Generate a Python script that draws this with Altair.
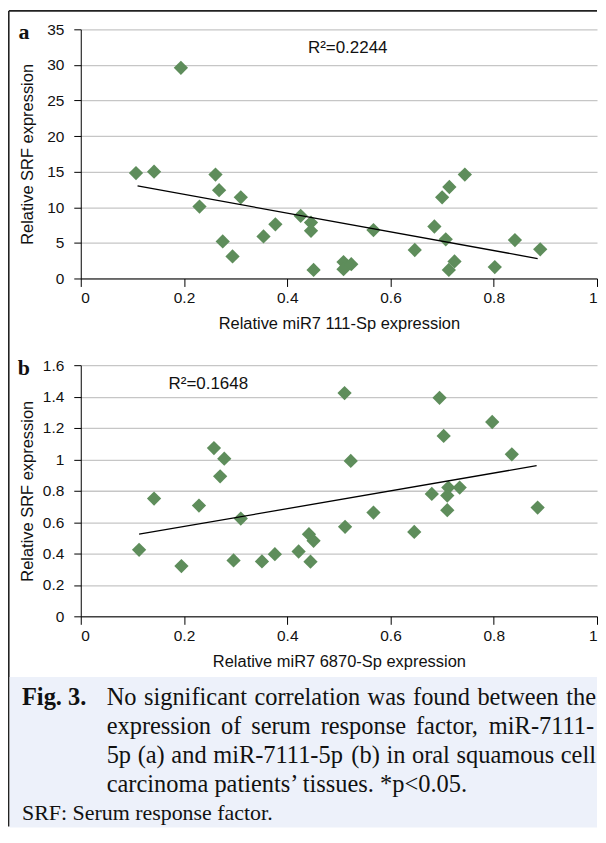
import altair as alt
import pandas as pd

# ---------------- data ----------------
x_ticks = [0, 0.2, 0.4, 0.6, 0.8, 1]

# Panel a : miR7 111-Sp vs SRF
a_x = [0.107, 0.142, 0.194, 0.230, 0.261, 0.268, 0.275, 0.294, 0.310, 0.354,
       0.377, 0.426, 0.446, 0.446, 0.451, 0.509, 0.509, 0.524, 0.567, 0.647,
       0.685, 0.700, 0.707, 0.714, 0.713, 0.724, 0.744, 0.802, 0.841, 0.890]
a_y = [14.8, 15.0, 29.6, 10.1, 14.6, 12.4, 5.2, 3.1, 11.4, 5.9,
       7.6, 8.8, 7.85, 6.7, 1.2, 2.3, 1.3, 2.0, 6.8, 4.0,
       7.3, 11.4, 5.5, 12.85, 1.2, 2.4, 14.6, 1.6, 5.4, 4.1]
a_trend_x = [0.110, 0.885]
a_trend_y = [13.0, 2.8]
a_y_ticks = [0, 5, 10, 15, 20, 25, 30, 35]
a_r2 = "R²=0.2244"

# Panel b : miR7 6870-Sp vs SRF
b_x = [0.113, 0.142, 0.195, 0.229, 0.258, 0.278, 0.270, 0.296, 0.310, 0.351,
       0.376, 0.422, 0.442, 0.451, 0.445, 0.511, 0.512, 0.523, 0.567, 0.646,
       0.680, 0.695, 0.703, 0.712, 0.710, 0.710, 0.734, 0.797, 0.835, 0.885]
b_y = [0.424, 0.750, 0.320, 0.706, 1.072, 1.004, 0.892, 0.356, 0.623, 0.350,
       0.396, 0.413, 0.523, 0.481, 0.348, 1.422, 0.570, 0.990, 0.661, 0.538,
       0.780, 1.392, 1.149, 0.820, 0.769, 0.676, 0.820, 1.238, 1.032, 0.693]
b_trend_x = [0.113, 0.883]
b_trend_y = [0.523, 0.960]
b_y_ticks = [0, 0.2, 0.4, 0.6, 0.8, 1, 1.2, 1.4, 1.6]
b_r2 = "R²=0.1648"

caption_label = "Fig. 3."
caption_lines = [
    "No significant correlation was found between the",
    "expression of serum response factor, miR-7111-",
    "5p (a) and miR-7111-5p (b) in oral squamous cell",
    "carcinoma patients’ tissues. *p<0.05.",
]
caption_justified = [True, True, True, False]
caption_note = "SRF: Serum response factor."

# ---------------- styling ----------------
SANS = "Liberation Sans, Arial, sans-serif"
SERIF = "Liberation Serif, Times New Roman, serif"
GREEN = "#5e8d5b"
W = 518
one = pd.DataFrame({"k": [0]})

# Times / Liberation Serif advance widths (1/1000 em) used to justify lines
TW = {" ": 250, "a": 444, "b": 500, "c": 444, "d": 500, "e": 444, "f": 333,
      "g": 500, "h": 500, "i": 278, "j": 278, "k": 500, "l": 278, "m": 778,
      "n": 500, "o": 500, "p": 500, "q": 500, "r": 333, "s": 389, "t": 278,
      "u": 500, "v": 500, "w": 722, "x": 500, "y": 500, "z": 444, ",": 250,
      ".": 250, "-": 333, "(": 333, ")": 333, "R": 667, "N": 722, "S": 556,
      "F": 556, "’": 333, "*": 500, "<": 564}


def tw(s, fs):
    return sum(TW.get(ch, 500) for ch in s) * fs / 1000.0


def panel(xs, ys, tx, ty, r2, r2x, r2y, ymax, yticks, xtitle, letter, h):
    pts = pd.DataFrame({"x": xs, "y": ys})
    trend = pd.DataFrame({"x": tx, "y": ty})
    lab = pd.DataFrame({"x": [r2x], "y": [r2y], "t": [r2]})
    xs_ = alt.Scale(domain=[0, 1], nice=False, zero=False)
    ys_ = alt.Scale(domain=[0, ymax], nice=False, zero=False)
    xax = alt.Axis(values=x_ticks, format="~g", title=xtitle, grid=False,
                   tickSize=8, labelPadding=4, titleY=45, titleBaseline="middle",
                   labelOverlap=False, tickCount=len(x_ticks))
    yax = alt.Axis(values=yticks, format="~g", title="Relative SRF expression",
                   grid=True, tickSize=7, labelPadding=10, titleX=-53,
                   titleY=h / 2, titleBaseline="middle", titleAngle=-90,
                   labelOverlap=False, tickCount=len(yticks))
    X = alt.X("x:Q", scale=xs_, axis=xax)
    Y = alt.Y("y:Q", scale=ys_, axis=yax)
    points = alt.Chart(pts).mark_point(
        shape="diamond", filled=True, size=205, color=GREEN, opacity=1
    ).encode(x=X, y=Y)
    line = alt.Chart(trend).mark_line(color="black", strokeWidth=1.3).encode(x=X, y=Y)
    txt = alt.Chart(lab).mark_text(align="left", baseline="middle", fontSize=17,
                                   font=SANS, color="#111").encode(
        x=X, y=Y, text="t:N")
    let = alt.Chart(one).mark_text(align="center", baseline="middle", fontSize=22,
                                   font=SERIF, fontWeight="bold", color="#111").encode(
        x=alt.value(-57), y=alt.value(3), text=alt.value(letter))
    return [points, line, txt, let]


la = panel(a_x, a_y, a_trend_x, a_trend_y, a_r2, 0.44, 32.4, 35, a_y_ticks,
           "Relative miR7 111-Sp expression", "a", 250)
lb = panel(b_x, b_y, b_trend_x, b_trend_y, b_r2, 0.17, 1.48, 1.6, b_y_ticks,
           "Relative miR7 6870-Sp expression", "b", 252)

# frame lines
top_border = alt.Chart(one).mark_rule(color="#222", strokeWidth=1.6).encode(
    x=alt.value(-72.2), x2=alt.value(518), y=alt.value(-18.5))
left_border = alt.Chart(one).mark_rule(color="#222", strokeWidth=1.6).encode(
    x=alt.value(-72.2), y=alt.value(-18.5), y2=alt.value(800))

chart_a = alt.layer(left_border, top_border, *la).properties(width=W, height=250)

# caption (below panel b)
CFS = 24.5
cap_bg = alt.Chart(one).mark_rect(color="#edf1fa").encode(
    x=alt.value(-71.4), x2=alt.value(518), y=alt.value(313), y2=alt.value(464))
cap_marks = [cap_bg,
             alt.Chart(one).mark_text(align="left", baseline="middle", fontSize=CFS,
                                      font=SERIF, fontWeight="bold", color="#111").encode(
                 x=alt.value(-59), y=alt.value(334), text=alt.value(caption_label))]
x0, x1 = 26, 517
for i, (ln, just) in enumerate(zip(caption_lines, caption_justified)):
    ypos = 334 + 29 * i
    words = ln.split(" ")
    if just and len(words) > 1:
        total = sum(tw(w, CFS) for w in words)
        gap = (x1 - x0 - total) / (len(words) - 1)
        cx = x0
        for w in words:
            cap_marks.append(
                alt.Chart(one).mark_text(align="left", baseline="middle", fontSize=CFS,
                                         font=SERIF, color="#111").encode(
                    x=alt.value(cx), y=alt.value(ypos), text=alt.value(w)))
            cx += tw(w, CFS) + gap
    else:
        cap_marks.append(
            alt.Chart(one).mark_text(align="left", baseline="middle", fontSize=CFS,
                                     font=SERIF, color="#111").encode(
                x=alt.value(x0), y=alt.value(ypos), text=alt.value(ln)))
cap_marks.append(
    alt.Chart(one).mark_text(align="left", baseline="middle", fontSize=22,
                             font=SERIF, color="#111").encode(
        x=alt.value(-59), y=alt.value(449), text=alt.value(caption_note)))

chart_b = alt.layer(*cap_marks, *lb).properties(width=W, height=252)

chart = alt.vconcat(
    chart_a, chart_b, spacing=87, bounds="flush", background="white",
    padding={"left": 0, "top": 0, "right": 0, "bottom": 0},
).configure_view(stroke=None).configure_axis(
    domainColor="black", domainWidth=1, tickColor="black", tickWidth=1,
    gridColor="#c6c6c6", gridWidth=1.3,
    labelFont=SANS, labelFontSize=15.5, labelColor="#111",
    titleFont=SANS, titleFontSize=16.5, titleFontWeight="normal", titleColor="#111",
)

chart.save("out.html", embed_options={"renderer": "svg", "actions": False})
